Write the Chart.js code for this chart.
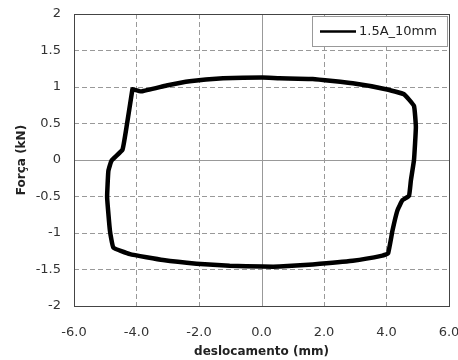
<!DOCTYPE html>
<html>
<head>
<meta charset="utf-8">
<script src="https://cdn.jsdelivr.net/npm/chart.js@4"></script>
<style>
  html, body { margin: 0; padding: 0; background: #fff; }
  #wrap { width: 458px; height: 360px; }
</style>
</head>
<body>
<div id="wrap"><canvas id="loop"></canvas></div>
<script>
// hysteresis loop (clockwise from the upper-left corner)
const deslocamento = [-4.13, -3.84, -3.04, -2.30, -1.23, 0.03, 0.57, 1.64, 2.92, 3.98, 4.56, 4.88, 4.94, 4.88, 4.78, 4.72, 4.51, 4.35, 4.19, 4.05, 3.87, 2.92, 1.64, 0.57, 0.04, -1.02, -2.08, -3.15, -4.21, -4.74, -4.85, -4.94, -4.90, -4.80, -4.45, -4.32, -4.13]
const forca = [0.97, 0.94, 1.02, 1.08, 1.12, 1.13, 1.12, 1.11, 1.05, 0.97, 0.90, 0.74, 0.45, 0.00, -0.28, -0.49, -0.55, -0.69, -0.97, -1.28, -1.31, -1.38, -1.43, -1.46, -1.46, -1.45, -1.42, -1.37, -1.29, -1.20, -0.97, -0.51, -0.15, -0.01, 0.14, 0.45, 0.97]
const serieNome = '1.5A_10mm'
const xTicks = [-6, -4, -2, 0, 2, 4, 6]
const yTicks = [-2, -1.5, -1, -0.5, 0, 0.5, 1, 1.5, 2]

const pontos = deslocamento.map((x, i) => ({x: x, y: forca[i]}))

const fonte = {family: 'DejaVu Sans', size: 13}

// solid zero lines, plot frame and a boxed legend in the top right corner
const moldura = {
    id: 'moldura',
    beforeDatasetsDraw(chart) {
        const {ctx, chartArea: a, scales} = chart
        const x0 = scales.x.getPixelForValue(0)
        const y0 = scales.y.getPixelForValue(0)
        ctx.save()
        ctx.strokeStyle = '#999'
        ctx.lineWidth = 1
        ctx.beginPath()
        ctx.moveTo(Math.round(x0) + 0.5, a.top)
        ctx.lineTo(Math.round(x0) + 0.5, a.bottom)
        ctx.moveTo(a.left, Math.round(y0) + 0.5)
        ctx.lineTo(a.right, Math.round(y0) + 0.5)
        ctx.stroke()
        ctx.strokeStyle = '#444'
        ctx.strokeRect(Math.round(a.left) + 0.5, Math.round(a.top) + 0.5, Math.round(a.right - a.left), Math.round(a.bottom - a.top))
        ctx.restore()
    },
    afterDraw(chart) {
        const {ctx, chartArea: a} = chart
        const ds = chart.data.datasets[0]
        const bx = Math.round(a.right) - 137, by = Math.round(a.top) + 2
        ctx.save()
        ctx.fillStyle = '#fff'
        ctx.fillRect(bx, by, 135, 30)
        ctx.strokeStyle = '#999'
        ctx.lineWidth = 1
        ctx.strokeRect(bx + 0.5, by + 0.5, 135, 30)
        ctx.strokeStyle = ds.borderColor
        ctx.lineWidth = 2.5
        ctx.beginPath()
        ctx.moveTo(bx + 8, by + 15.5)
        ctx.lineTo(bx + 44, by + 15.5)
        ctx.stroke()
        ctx.fillStyle = '#222'
        ctx.font = fonte.size + 'px "' + fonte.family + '"'
        ctx.textBaseline = 'middle'
        ctx.fillText(ds.label, bx + 47, by + 16)
        ctx.restore()
    }
}

new Chart(document.getElementById('loop').getContext('2d'), {
    type: 'scatter',
    data: {
        datasets: [{
            label: serieNome,
            data: pontos,
            showLine: true,
            borderColor: '#000',
            backgroundColor: '#000',
            borderWidth: 4.5,
            borderJoinStyle: 'round',
            borderCapStyle: 'round',
            pointRadius: 0,
            tension: 0.1
        }]
    },
    options: {
        responsive: true,
        maintainAspectRatio: false,
        animation: false,
        layout: {padding: {left: 0, right: 9, top: 14, bottom: 0}},
        scales: {
            x: {
                type: 'linear',
                min: -6, max: 6,
                afterBuildTicks: s => { s.ticks = xTicks.map(v => ({value: v})) },
                afterFit: s => { s.height = 54; s.paddingLeft = 0; s.paddingRight = 0 },
                ticks: {
                    color: '#333', font: fonte, padding: 19,
                    callback: v => v.toFixed(1)
                },
                grid: {
                    drawTicks: false,
                    color: c => (c.tick && (c.tick.value === 0 || Math.abs(c.tick.value) === 6)) ? 'rgba(0,0,0,0)' : '#999',
                    lineWidth: 1
                },
                border: {display: false, dash: [5, 3]},
                title: {
                    display: true, text: 'deslocamento (mm)', color: '#222',
                    font: {family: 'DejaVu Sans', size: 12, weight: 'bold'},
                    padding: {top: 0, bottom: 1}
                }
            },
            y: {
                type: 'linear',
                min: -2, max: 2,
                afterBuildTicks: s => { s.ticks = yTicks.map(v => ({value: v})) },
                afterFit: s => { s.width = 74; s.paddingTop = 0; s.paddingBottom = 0 },
                ticks: {color: '#333', font: fonte, padding: 13, callback: v => String(v)},
                grid: {
                    drawTicks: false,
                    color: c => (c.tick && (c.tick.value === 0 || Math.abs(c.tick.value) === 2)) ? 'rgba(0,0,0,0)' : '#999',
                    lineWidth: 1
                },
                border: {display: false, dash: [5, 3]},
                title: {
                    display: true, text: 'Força (kN)', color: '#222',
                    font: {family: 'DejaVu Sans', size: 12, weight: 'bold'},
                    padding: {top: 15, bottom: 0}
                }
            }
        },
        plugins: {
            legend: {display: false},
            tooltip: {enabled: false}
        }
    },
    plugins: [moldura]
})
</script>
</body>
</html>
